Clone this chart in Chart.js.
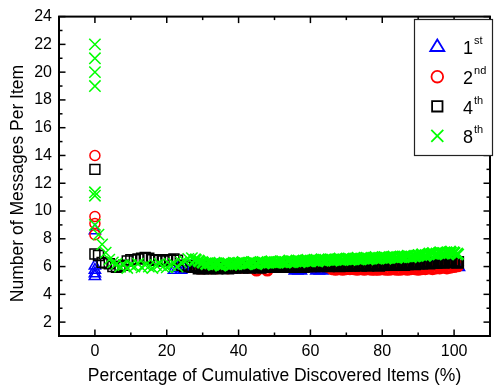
<!DOCTYPE html>
<html>
<head>
<meta charset="utf-8">
<script src="https://cdn.jsdelivr.net/npm/chart.js@4/dist/chart.umd.min.js"></script>
<style>
  html, body { margin: 0; padding: 0; background: #fff; }
  canvas { display: block; }
</style>
</head>
<body>
<canvas id="c" width="501" height="392"></canvas>
<script>
// ---------------- DATA ----------------
const seriesNames = ['1st', '2nd', '4th', '8th'];

// x positions (percentage of cumulative discovered items) shared by the dense part
const pct = [1,2,3,4,5,6,7,8,9,10,11,12,13,14,15,16,17,18,19,20,
  21,22,23,24,25,26,27,28,29,30,31,32,33,34,35,36,37,38,39,40,
  41,42,43,44,45,46,47,48,49,50,51,52,53,54,55,56,57,58,59,60,
  61,62,63,64,65,66,67,68,69,70,71,72,73,74,75,76,77,78,79,80,
  81,82,83,84,85,86,87,88,89,90,91,92,93,94,95,96,97,98,99,100,101];

// values observed at 0 %
const first0  = [8.6, 6.05, 5.75, 5.5, 5.3];
const second0 = [14.0, 9.6, 9.1, 8.3];
const fourth0 = [13.0, 6.9];
const eighth0 = [22.0, 21.0, 20.0, 19.0, 11.35, 11.1, 9.0];

// values at pct[] (null = no visible point)
const firstY = [null,null,null,null,null,null,null,null,null,null,
  null,null,null,null,null,null,null,null,null,null,
  null,5.75,5.9,5.75,5.85,5.95,6.0,6.0,5.95,5.95,
  5.95,5.95,5.95,5.95,5.95,5.9,5.95,5.95,5.95,5.95,
  5.95,5.95,5.95,5.9,5.95,5.95,5.95,5.95,5.95,5.95,
  5.95,5.95,5.95,5.95,5.9,5.75,5.75,5.9,5.95,5.95,
  5.9,5.75,5.75,5.9,5.95,5.95,5.95,6.0,5.95,6.0,
  6.0,5.95,6.0,6.0,5.95,6.0,6.05,6.0,6.0,6.05,
  6.0,6.05,6.0,6.05,6.05,6.0,6.05,6.05,6.1,6.05,
  6.1,6.05,6.1,6.1,6.05,6.1,6.1,6.15,6.1,6.1,6.0];

const secondY = [null,null,null,null,null,null,null,null,null,null,
  null,null,null,null,null,null,null,null,null,null,
  null,null,null,null,null,null,null,6.0,5.9,5.9,
  5.95,5.9,5.95,5.9,5.95,5.95,5.9,5.95,5.95,6.0,
  5.95,6.0,5.95,6.0,5.75,5.95,6.0,5.75,6.05,6.0,
  6.0,6.05,6.0,6.05,6.0,6.05,6.05,6.0,6.05,6.05,
  6.05,6.1,6.05,6.1,6.0,5.85,5.8,5.85,5.8,5.85,
  5.85,5.85,5.8,5.85,5.8,5.85,5.8,5.8,5.8,5.85,
  5.8,5.8,5.85,5.8,5.8,5.85,5.8,5.85,5.85,5.8,
  5.85,5.85,5.9,5.85,5.9,5.9,5.95,5.9,5.95,6.0,6.05];

const fourthY = [6.8,6.3,6.25,6.2,6.0,5.95,6.0,6.1,6.4,6.5,
  6.5,6.55,6.6,6.65,6.6,6.5,6.45,6.5,6.4,6.45,
  6.5,6.55,6.45,6.1,6.0,6.0,5.95,6.0,5.9,5.9,
  5.95,5.9,5.95,5.9,5.95,5.95,5.9,5.95,5.95,6.0,
  5.95,6.0,5.95,6.0,6.0,5.95,6.0,6.0,6.05,6.0,
  6.0,6.05,6.0,6.05,6.0,6.05,6.05,6.0,6.05,6.05,
  6.05,6.1,6.05,6.1,6.05,6.1,6.1,6.05,6.1,6.1,
  6.1,6.1,6.15,6.1,6.15,6.1,6.15,6.15,6.1,6.15,
  6.15,6.2,6.15,6.2,6.2,6.15,6.2,6.25,6.2,6.25,
  6.25,6.3,6.25,6.3,6.3,6.35,6.3,6.35,6.4,6.35,6.3];

const eighthY = [8.3,7.6,7.0,6.5,6.3,6.2,6.0,6.1,5.9,6.1,
  6.0,6.2,5.95,6.1,6.0,5.9,6.1,6.2,6.0,5.95,
  6.1,6.2,6.0,6.3,6.4,6.55,6.6,6.5,6.4,6.3,
  6.2,6.25,6.15,6.2,6.1,6.25,6.2,6.15,6.2,6.25,
  6.3,6.2,6.25,6.3,6.2,6.3,6.25,6.3,6.35,6.3,
  6.3,6.35,6.3,6.4,6.35,6.4,6.35,6.4,6.45,6.4,
  6.45,6.4,6.5,6.45,6.5,6.45,6.5,6.55,6.5,6.55,
  6.5,6.55,6.6,6.55,6.6,6.55,6.6,6.65,6.6,6.65,
  6.6,6.65,6.7,6.65,6.7,6.7,6.75,6.7,6.75,6.8,
  6.85,6.8,6.9,6.95,6.9,7.0,6.95,7.0,7.05,7.0,6.9];

// axis ticks
const xTickLabels = [0, 20, 40, 60, 80, 100];
const xMinorTicks = [10, 30, 50, 70, 90];
const yTickLabels = [2, 4, 6, 8, 10, 12, 14, 16, 18, 20, 22, 24];
const yMinorTicks = [3, 5, 7, 9, 11, 13, 15, 17, 19, 21, 23];

// ---------------- BUILD ----------------
function buildPoints(zeroVals, ys) {
  const out = zeroVals.map(v => ({ x: 0, y: v }));
  ys.forEach((v, i) => { if (v !== null) out.push({ x: pct[i], y: v }); });
  return out;
}

const FONT = "'Liberation Sans', Arial, Helvetica, sans-serif";
Chart.defaults.font.family = FONT;
Chart.defaults.color = '#000';

const styles = [
  { color: '#0000FF', pointStyle: 'triangle', r: 6.5, order: 3 },
  { color: '#FF0000', pointStyle: 'circle',   r: 5,   order: 2 },
  { color: '#000000', pointStyle: 'rect',     r: 7,   order: 1 },
  { color: '#00FF00', pointStyle: 'crossRot', r: 8,   order: 0 }
];
const seriesData = [
  buildPoints(first0, firstY),
  buildPoints(second0, secondY),
  buildPoints(fourth0, fourthY),
  buildPoints(eighth0, eighthY)
];

// thicker strokes where the markers crowd into a continuous band
const bandWidth = (c) => (c.raw && c.raw.x >= 28 ? 3 : 1.5);

const datasets = seriesNames.map((name, i) => ({
  label: name,
  data: seriesData[i],
  pointStyle: styles[i].pointStyle,
  pointRadius: styles[i].r,
  pointHoverRadius: styles[i].r,
  borderColor: styles[i].color,
  backgroundColor: 'rgba(0,0,0,0)',
  pointBorderWidth: bandWidth,
  showLine: false,
  order: styles[i].order
}));

function line(ctx, x1, y1, x2, y2) {
  ctx.beginPath(); ctx.moveTo(x1, y1); ctx.lineTo(x2, y2); ctx.stroke();
}

const framePlugin = {
  id: 'frameTicks',
  afterDatasetsDraw(chart) {
    const { ctx, chartArea: a, scales: { x, y } } = chart;
    ctx.save();
    ctx.strokeStyle = '#000';
    ctx.lineWidth = 1.5;
    const MAJ = 6.5, MIN = 3.5;
    xTickLabels.forEach(v => {
      const p = x.getPixelForValue(v);
      line(ctx, p, a.bottom, p, a.bottom - MAJ);
      line(ctx, p, a.top, p, a.top + MAJ);
    });
    xMinorTicks.forEach(v => {
      const p = x.getPixelForValue(v);
      line(ctx, p, a.bottom, p, a.bottom - MIN);
      line(ctx, p, a.top, p, a.top + MIN);
    });
    yTickLabels.forEach(v => {
      const p = y.getPixelForValue(v);
      line(ctx, a.left, p, a.left + MAJ, p);
      line(ctx, a.right, p, a.right - MAJ, p);
    });
    yMinorTicks.forEach(v => {
      const p = y.getPixelForValue(v);
      line(ctx, a.left, p, a.left + MIN, p);
      line(ctx, a.right, p, a.right - MIN, p);
    });
    ctx.lineWidth = 2;
    ctx.strokeRect(a.left, a.top, a.right - a.left, a.bottom - a.top);
    ctx.restore();
  },
  afterDraw(chart) {
    const { ctx } = chart;
    ctx.save();
    // y axis title
    ctx.translate(18, 183.5);
    ctx.rotate(-Math.PI / 2);
    ctx.font = "17.5px " + FONT;
    ctx.fillStyle = '#000';
    ctx.textAlign = 'center';
    ctx.textBaseline = 'middle';
    ctx.fillText('Number of Messages Per Item', 0, 0);
    ctx.restore();

    // legend
    ctx.save();
    const bx = 414.5, by = 19.5, bw = 78, bh = 136;
    ctx.fillStyle = '#fff';
    ctx.fillRect(bx, by, bw, bh);
    ctx.strokeStyle = '#222';
    ctx.lineWidth = 1.2;
    ctx.strokeRect(bx, by, bw, bh);
    const mx = 437.3;
    const rows = [46, 76.7, 106.3, 135.8];
    const supers = ['st', 'nd', 'th', 'th'];
    const mains = ['1', '2', '4', '8'];
    rows.forEach((cy, i) => {
      ctx.strokeStyle = styles[i].color;
      ctx.lineWidth = 1.8;
      ctx.beginPath();
      if (i === 0) {
        ctx.moveTo(mx, cy - 6.5); ctx.lineTo(mx + 7, cy + 5); ctx.lineTo(mx - 7, cy + 5); ctx.closePath();
      } else if (i === 1) {
        ctx.arc(mx, cy, 5.8, 0, Math.PI * 2);
      } else if (i === 2) {
        ctx.rect(mx - 5.2, cy - 5.2, 10.4, 10.4);
      } else {
        ctx.moveTo(mx - 6, cy - 6); ctx.lineTo(mx + 6, cy + 6);
        ctx.moveTo(mx + 6, cy - 6); ctx.lineTo(mx - 6, cy + 6);
      }
      ctx.stroke();
      ctx.fillStyle = '#000';
      ctx.textAlign = 'left';
      ctx.textBaseline = 'alphabetic';
      ctx.font = "18px " + FONT;
      const tx = 463;
      ctx.fillText(mains[i], tx, cy + 7.5);
      const w = ctx.measureText(mains[i]).width;
      ctx.font = "11px " + FONT;
      ctx.fillText(supers[i], tx + w + 1, cy - 2.5);
    });
    ctx.restore();
  }
};

new Chart(document.getElementById('c'), {
  type: 'scatter',
  data: { datasets },
  options: {
    responsive: false,
    animation: false,
    devicePixelRatio: 1,
    events: [],
    layout: { padding: { top: 11, right: 1, left: 0, bottom: 0 } },
    plugins: { legend: { display: false }, tooltip: { enabled: false } },
    scales: {
      x: {
        type: 'linear',
        position: 'bottom',
        min: -10, max: 110,
        afterBuildTicks: s => { s.ticks = xTickLabels.map(v => ({ value: v })); },
        afterFit: s => { s.height = 56; },
        grid: { display: false, drawTicks: false },
        border: { display: false },
        ticks: { font: { size: 16 }, color: '#000', padding: 6, maxRotation: 0, autoSkip: false },
        title: {
          display: true,
          text: 'Percentage of Cumulative Discovered Items (%)',
          font: { size: 17.5 },
          color: '#000',
          padding: { top: 0, bottom: 5 }
        }
      },
      y: {
        type: 'linear',
        position: 'left',
        min: 1, max: 24,
        afterBuildTicks: s => { s.ticks = yTickLabels.map(v => ({ value: v })); },
        afterFit: s => { s.width = 59; },
        grid: { display: false, drawTicks: false },
        border: { display: false },
        ticks: { font: { size: 16 }, color: '#000', padding: 7, autoSkip: false }
      }
    }
  },
  plugins: [framePlugin]
});
</script>
</body>
</html>
